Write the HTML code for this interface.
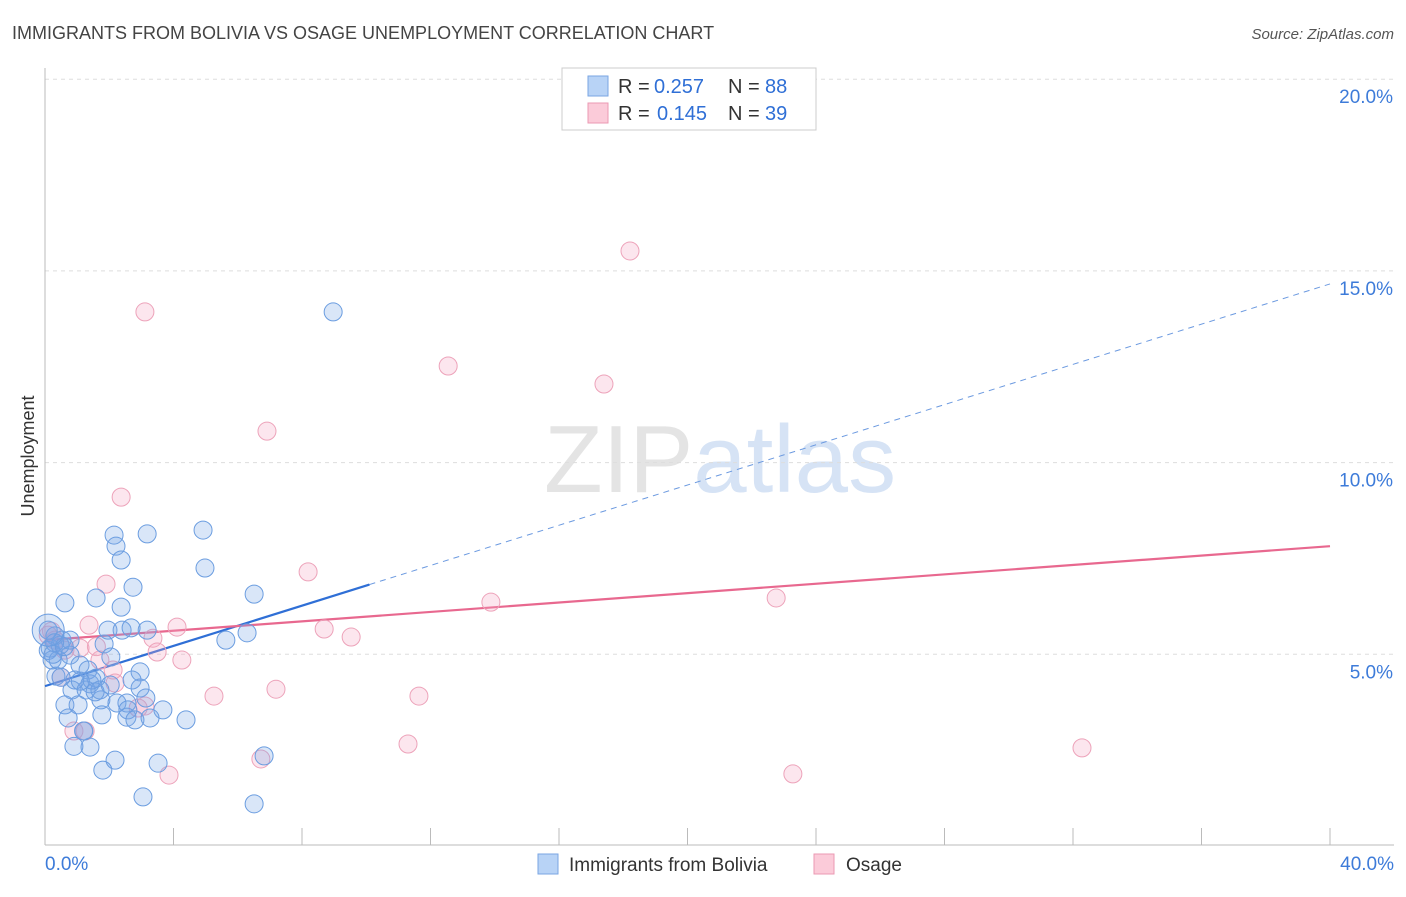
<!DOCTYPE html>
<html><head><meta charset="utf-8"><style>
body{margin:0;background:#fff;font-family:"Liberation Sans",sans-serif;}
svg text{font-family:"Liberation Sans",sans-serif;}
</style></head><body>
<svg id="chart" width="1406" height="892" xmlns="http://www.w3.org/2000/svg">
<text x="12" y="39" font-size="18" fill="#444">IMMIGRANTS FROM BOLIVIA VS OSAGE UNEMPLOYMENT CORRELATION CHART</text>
<text x="1394" y="39" font-size="15" fill="#555" text-anchor="end" font-style="italic">Source: ZipAtlas.com</text>
<text x="720" y="492" font-size="96" text-anchor="middle" fill="#e4e4e4" font-family="Liberation Serif">ZIP<tspan fill="#d6e3f5" font-family="Liberation Sans">atlas</tspan></text>
<g id="grid"></g>
<g id="axes"></g>
<text transform="translate(34,456) rotate(-90)" font-size="18" fill="#333" text-anchor="middle">Unemployment</text>
<g id="lines"></g>
<g id="pts"></g>
<g>
<rect x="562" y="68" width="254" height="62" fill="#fff" stroke="#ccc"/>
<rect x="588" y="76" width="20" height="20" fill="#b8d3f6" stroke="#7aa6e3"/>
<text x="618" y="93" font-size="20" fill="#333">R =</text>
<text x="654" y="93" font-size="20" fill="#2f6fd6">0.257</text>
<text x="728" y="93" font-size="20" fill="#333">N =</text>
<text x="765" y="93" font-size="20" fill="#2f6fd6">88</text>
<rect x="588" y="103" width="20" height="20" fill="#fbcbd9" stroke="#eb9ab3"/>
<text x="618" y="120" font-size="20" fill="#333">R =</text>
<text x="657" y="120" font-size="20" fill="#2f6fd6">0.145</text>
<text x="728" y="120" font-size="20" fill="#333">N =</text>
<text x="765" y="120" font-size="20" fill="#2f6fd6">39</text>
</g>
<g>
<rect x="538" y="854" width="20" height="20" fill="#b8d3f6" stroke="#7aa6e3"/>
<text x="569" y="871" font-size="19" fill="#333">Immigrants from Bolivia</text>
<rect x="814" y="854" width="20" height="20" fill="#fbcbd9" stroke="#eb9ab3"/>
<text x="846" y="871" font-size="19" fill="#333">Osage</text>
</g>
</svg>
<script>
const yTicks=[5,10,15,20];
const yTickLabels=["5.0%","10.0%","15.0%","20.0%"];
const xTickLabels=["0.0%","40.0%"];
const blueX=[8.97,4.92,2.15,3.18,2.21,2.37,4.98,2.74,6.51,1.59,0.62,2.37,1.96,2.40,3.18,2.68,6.29,5.63,1.84,0.53,0.31,0.16,0.22,2.05,0.78,1.09,1.34,2.96,0.34,0.93,1.40,1.59,2.71,2.96,0.84,1.28,1.74,3.14,2.24,2.55,0.62,1.03,3.67,2.58,1.77,2.55,2.80,3.27,4.39,0.72,1.21,1.40,2.18,1.80,3.52,6.82,3.05,6.51,0.1,0.1,0.47,0.41,0.78,1.56,2.03,1.71,1.46,0.3,0.5,1.1,1.2,0.9,0.25,0.6];
const blueY=[13.93,8.24,8.11,8.14,7.82,7.46,7.25,6.75,6.57,6.47,6.34,6.23,5.63,5.63,5.63,5.69,5.56,5.37,5.27,5.37,5.48,5.16,4.85,4.93,4.98,4.72,4.59,4.54,4.43,4.33,4.23,4.38,4.33,4.12,4.07,4.07,3.81,3.86,3.73,3.73,3.68,3.68,3.55,3.55,3.42,3.36,3.29,3.34,3.29,3.34,3.00,2.58,2.24,1.98,2.16,2.35,1.28,1.10,5.63,5.10,5.24,4.85,5.37,4.02,4.20,4.07,4.33,5.3,4.4,4.3,3.0,2.6,5.0,5.2];
const pinkX=[18.21,3.11,12.55,17.40,6.91,2.37,8.19,1.90,13.88,22.76,1.37,4.11,8.69,9.53,3.36,3.49,4.26,1.71,0.62,2.12,2.18,7.19,5.26,11.64,3.11,11.30,32.28,6.72,3.86,23.28,1.25,0.31,1.09,0.5,0.2,1.6,2.9,0.9,0.1];
const pinkY=[15.52,13.93,12.52,12.05,10.82,9.10,7.15,6.83,6.36,6.47,5.76,5.71,5.66,5.45,5.42,5.06,4.85,4.85,5.11,4.59,4.25,4.09,3.91,3.91,3.65,2.66,2.56,2.27,1.85,1.88,3.00,5.37,5.16,4.4,5.6,5.2,3.6,3.0,5.5];
const blueTrend=[4.17,14.66]; const blueSolidEnd=10.1;
const pinkTrend=[5.37,7.82];
const sx=v=>45+v/40*1285, sy=v=>846-v*38.34;
const NS="http://www.w3.org/2000/svg";
function mk(t,a,p){const e=document.createElementNS(NS,t);for(const k in a)e.setAttribute(k,a[k]);p.appendChild(e);return e;}
const grid=document.getElementById('grid'),axes=document.getElementById('axes');
yTicks.forEach((t,i)=>{
 const l=mk('line',{x1:45,x2:1394,y1:sy(t),y2:sy(t),stroke:'#ddd','stroke-dasharray':'4,4'},grid);
 
 
 const tx=mk('text',{x:1393,y:sy(t)+24,'font-size':19,fill:'#3d7bd9','text-anchor':'end'},grid);tx.textContent=yTickLabels[i];
 
 
});
mk('line',{x1:45,x2:45,y1:68,y2:845,stroke:'#bbb'},axes);
mk('line',{x1:45,x2:1394,y1:845,y2:845,stroke:'#bbb'},axes);
for(let i=1;i<=10;i++){const x=sx(i*4);const t=mk('line',{x1:x,x2:x,y1:828,y2:845,stroke:'#bbb'},axes);
 
 }
[[0,'start',45],[40,'end',1394]].forEach((d,i)=>{const t=mk('text',{x:d[2],y:870,'font-size':19,fill:'#3d7bd9','text-anchor':d[1]},axes);t.textContent=xTickLabels[i];
 
 });
const pts=document.getElementById('pts');
function dots(X,Y,fill,stroke,name){X.forEach((x,i)=>{const c=mk('circle',{cx:sx(x),cy:sy(Y[i]),r:9,fill:fill,stroke:stroke,'stroke-width':1},pts);
 
 });}
dots(pinkX,pinkY,'rgba(245,165,195,0.28)','#eda3ba','osage-point');
dots(blueX,blueY,'rgba(120,165,230,0.28)','#6b9de0','bolivia-point');
const big=mk('circle',{cx:sx(0.1),cy:sy(5.63),r:16,fill:'rgba(120,165,230,0.28)',stroke:'#6b9de0'},pts);


const lines=document.getElementById('lines');
const f=x=>blueTrend[0]+(blueTrend[1]-blueTrend[0])*x/40;
const bl=mk('line',{x1:sx(0),y1:sy(blueTrend[0]),x2:sx(blueSolidEnd),y2:sy(f(blueSolidEnd)),stroke:'#2f6fd6','stroke-width':2.2},lines);


const bd=mk('line',{x1:sx(blueSolidEnd),y1:sy(f(blueSolidEnd)),x2:sx(40),y2:sy(blueTrend[1]),stroke:'#6c9ae0','stroke-width':1,'stroke-dasharray':'6,5'},lines);


const pl=mk('line',{x1:sx(0),y1:sy(pinkTrend[0]),x2:sx(40),y2:sy(pinkTrend[1]),stroke:'#e8688f','stroke-width':2.2},lines);


</script>
</body></html>
